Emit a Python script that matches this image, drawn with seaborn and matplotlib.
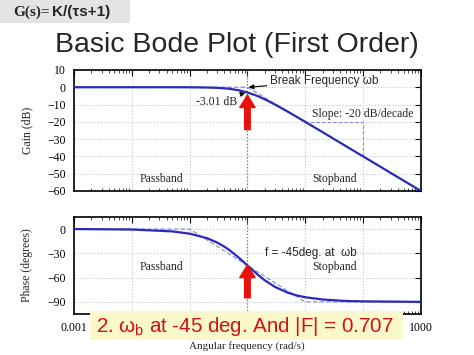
import matplotlib
matplotlib.use("Agg")
import matplotlib.pyplot as plt
from matplotlib.patches import Rectangle
from matplotlib.ticker import LogLocator, NullFormatter, FixedLocator
import seaborn as sns
import pandas as pd

# ---- data ----
omega = [0.001, 0.01, 0.05, 0.1, 0.2, 0.3, 0.4, 0.5, 0.7, 1.0, 1.5, 2.0, 3.0,
         5.0, 7.0, 10.0, 20.0, 50.0, 100.0, 1000.0]
gain_db = [0.0, 0.0, -0.01, -0.04, -0.17, -0.37, -0.64, -0.97, -1.73, -3.01,
           -5.12, -6.99, -10.0, -14.15, -17.0, -20.04, -26.0, -33.98, -40.0, -60.0]
phase_deg = [0.0, -0.6, -2.9, -5.7, -11.3, -16.7, -21.8, -26.6, -35.0, -45.0,
             -56.3, -63.4, -71.6, -78.7, -81.9, -84.3, -87.1, -88.9, -89.4, -90.0]

gain_asym_w = [0.001, 1.0, 1000.0]
gain_asym_db = [0.0, 0.0, -60.0]
phase_asym_w = [0.001, 0.1, 10.0, 1000.0]
phase_asym_deg = [0.0, 0.0, -90.0, -90.0]

slope_w = [10.0, 100.0, 100.0]
slope_db = [-20.0, -20.0, -40.0]

gain_ticks = [10, 0, -10, -20, -30, -40, -50, -60]
phase_ticks = [0, -30, -60, -90]
x_ticks = [0.001, 0.01, 0.1, 1, 10, 100, 1000]
# only the end labels are visible in the reference (the rest sit under the banner)
x_tick_labels = ["0.001", "", "", "", "", "", "1000"]

# ---- style ----
sns.set_style("white")
plt.rcParams["font.family"] = ["Liberation Serif", "DejaVu Serif"]
plt.rcParams["mathtext.fontset"] = "custom"
plt.rcParams["mathtext.rm"] = "Liberation Sans"
plt.rcParams["mathtext.it"] = "Liberation Sans"

CURVE = "#2a2ab8"
ASYM = "#7f86e0"
SANS = ["Liberation Sans", "DejaVu Sans"]

fig = plt.figure(figsize=(4.74, 3.55), dpi=100)
fig.patch.set_facecolor("white")

ax1 = fig.add_axes([0.156, 0.462, 0.732, 0.341])
ax2 = fig.add_axes([0.156, 0.1155, 0.732, 0.2735])

df = pd.DataFrame({"omega": omega, "gain": gain_db, "phase": phase_deg})
dfg = pd.DataFrame({"omega": gain_asym_w, "v": gain_asym_db})
dfp = pd.DataFrame({"omega": phase_asym_w, "v": phase_asym_deg})
dfs = pd.DataFrame({"omega": slope_w, "v": slope_db})

for ax in (ax1, ax2):
    ax.set_xscale("log")
    ax.set_xlim(0.001, 1000)

sns.lineplot(data=dfg, x="omega", y="v", ax=ax1, color=ASYM, lw=0.8,
             linestyle=(0, (4, 2)), sort=False, estimator=None, zorder=3)
sns.lineplot(data=dfs, x="omega", y="v", ax=ax1, color=ASYM, lw=0.8,
             linestyle=(0, (3, 2)), sort=False, estimator=None, zorder=3)
sns.lineplot(data=df, x="omega", y="gain", ax=ax1, color=CURVE, lw=1.6,
             sort=False, estimator=None, zorder=4)
sns.lineplot(data=dfp, x="omega", y="v", ax=ax2, color=ASYM, lw=0.8,
             linestyle=(0, (4, 2)), sort=False, estimator=None, zorder=3)
sns.lineplot(data=df, x="omega", y="phase", ax=ax2, color=CURVE, lw=1.6,
             sort=False, estimator=None, zorder=4)

ax1.set_ylim(-60, 10)
ax2.set_ylim(-105, 15)
ax1.set_yticks(gain_ticks)
ax2.set_yticks(phase_ticks)

for ax in (ax1, ax2):
    ax.xaxis.set_major_locator(FixedLocator(x_ticks))
    ax.xaxis.set_minor_locator(LogLocator(base=10, subs=range(2, 10), numticks=20))
    ax.xaxis.set_minor_formatter(NullFormatter())
    ax.tick_params(axis="both", which="major", direction="in", top=True,
                   right=True, length=4, width=0.8, labelsize=8.5, pad=6,
                   colors="black")
    ax.tick_params(axis="x", which="minor", direction="in", top=True,
                   bottom=True, length=2, width=0.6)
    for sp in ax.spines.values():
        sp.set_color("black")
        sp.set_linewidth(1.2)
    ax.grid(True, which="major", color="#c6c6c6", linestyle=":", lw=0.8)
    ax.axvline(1.0, color="#777777", linestyle=":", lw=0.9, zorder=2)
    ax.set_xlabel("")

ax1.set_xticklabels([])
ax2.set_xticklabels(x_tick_labels)
for lab in ax1.get_yticklabels() + ax2.get_yticklabels() + ax2.get_xticklabels():
    lab.set_fontsize(8.5)

ax1.set_ylabel("Gain (dB)", fontsize=8.5)
ax2.set_ylabel("Phase (degrees)", fontsize=8.5)
ax1.yaxis.set_label_coords(-0.118, 0.5)
ax2.yaxis.set_label_coords(-0.118, 0.5)

# ---- annotations in the gain plot ----
ax1.text(0.0138, -53, "Passband", fontsize=8.5, va="center", ha="left")
ax1.text(13.2, -53, "Stopband", fontsize=8.5, va="center", ha="left")
ax1.text(13.2, -15.5, "Slope: -20 dB/decade", fontsize=8.5, va="center", ha="left")
ax1.annotate("Break Frequency \u03c9b", xy=(1.05, 0.0), xytext=(2.45, 3.6),
             fontsize=8.5, family=SANS, va="center", ha="left",
             arrowprops=dict(arrowstyle="-|>", color="black", lw=0.8,
                             mutation_scale=7, shrinkA=0, shrinkB=0))
ax1.annotate("-3.01 dB", xy=(0.92, -3.2), xytext=(0.68, -8.5),
             fontsize=8.5, va="center", ha="right",
             arrowprops=dict(arrowstyle="-|>", color="black", lw=0.8,
                             mutation_scale=7, shrinkA=1, shrinkB=0))
ax1.annotate("", xy=(1.0, -4.5), xytext=(1.0, -24.5),
             arrowprops=dict(facecolor="#e8120c", edgecolor="#e8120c",
                             width=4, headwidth=11, headlength=9), zorder=6)

# ---- annotations in the phase plot ----
ax2.text(0.0138, -47, "Passband", fontsize=8.5, va="center", ha="left")
ax2.text(13.2, -47, "Stopband", fontsize=8.5, va="center", ha="left")
ax2.text(2.0, -29.5, "f = -45deg. at  \u03c9b", fontsize=8.5, family=SANS,
         va="center", ha="left")
ax2.annotate("", xy=(1.0, -44.5), xytext=(1.0, -85),
             arrowprops=dict(facecolor="#e8120c", edgecolor="#e8120c",
                             width=4, headwidth=11, headlength=9), zorder=6)

# ---- slide elements ----
fig.text(0.5, 0.873, "Basic Bode Plot (First Order)", fontsize=20.5,
         family=SANS, ha="center", va="center")

fig.patches.append(Rectangle((0.0, 1 - 23 / 355), 130 / 474, 23 / 355,
                             transform=fig.transFigure, facecolor="#e4e4e4",
                             edgecolor="none", zorder=1))
fig.text(13 / 474, 1 - 12 / 355, "G(s)=", fontsize=11, fontweight="bold",
         family=["Liberation Serif"], ha="left", va="center", zorder=2)
fig.text(52 / 474, 1 - 12 / 355, "K/(\u03c4s+1)", fontsize=11,
         fontweight="bold", family=SANS, ha="left", va="center", zorder=2)

fig.text(247 / 474, 1 - 346 / 355, "Angular frequency (rad/s)", fontsize=8,
         ha="center", va="center")

fig.patches.append(Rectangle((90 / 474, 1 - 340 / 355), 313 / 474, 29 / 355,
                             transform=fig.transFigure, facecolor="#fbf8cc",
                             edgecolor="none", zorder=5))
fig.text(96 / 474, 1 - 326 / 355, r"2. $\omega_b$ at -45 deg. And |F| = 0.707",
         fontsize=14.8, color="#d40f0f", family=SANS, ha="left", va="center",
         zorder=6)

fig.savefig("out.png", dpi=100)
